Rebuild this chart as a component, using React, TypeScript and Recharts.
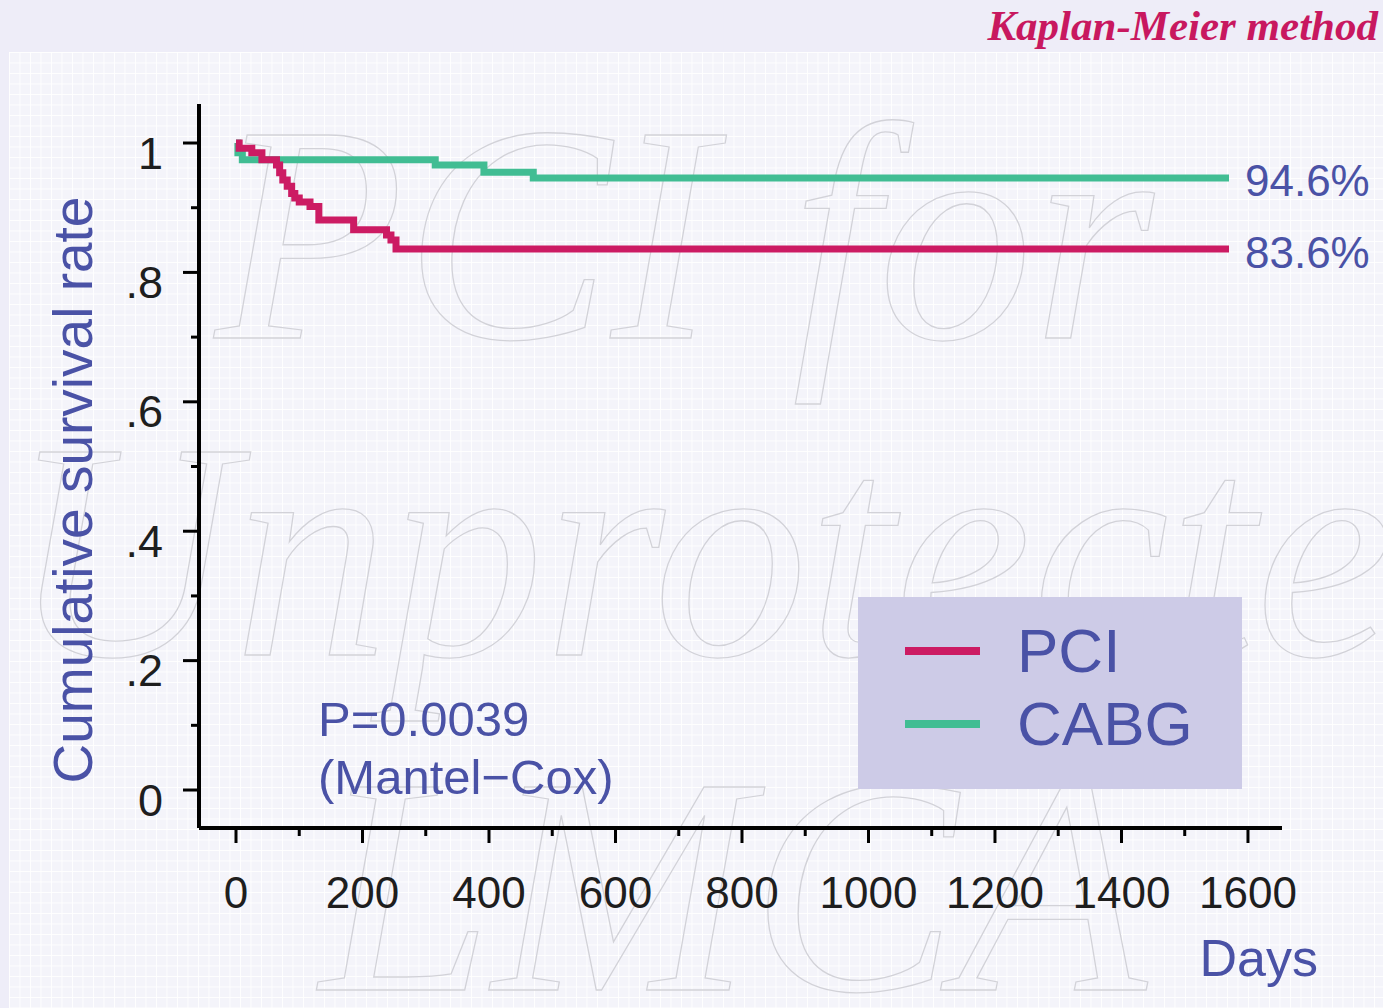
import { Legend, Line, LineChart, XAxis, YAxis } from "recharts";

// Kaplan-Meier steps (day, cumulative survival)
const pciDays = [0, 5, 25, 41, 64, 69, 74, 81, 88, 93, 100, 117, 131, 186, 238, 245, 253, 1570];
const pciSurvival = [1.0, 0.992, 0.985, 0.974, 0.966, 0.954, 0.943, 0.933, 0.922, 0.915, 0.909, 0.902, 0.881, 0.866, 0.858, 0.85, 0.836, 0.836];
const cabgDays = [0, 3, 10, 315, 392, 470, 1570];
const cabgSurvival = [1.0, 0.985, 0.974, 0.966, 0.955, 0.946, 0.946];

const finalLabels = { PCI: "83.6%", CABG: "94.6%" };
const legendOrder = ["PCI", "CABG"];

const xTicks = [0, 100, 200, 300, 400, 500, 600, 700, 800, 900, 1000, 1100, 1200, 1300, 1400, 1500, 1600];
const yTicks = [0, 0.1, 0.2, 0.3, 0.4, 0.5, 0.6, 0.7, 0.8, 0.9, 1.0];
const yTickLabels: Record<string, string> = { "0": "0", "0.2": ".2", "0.4": ".4", "0.6": ".6", "0.8": ".8", "1": "1" };

const pciData = pciDays.map((d, i) => ({ day: d, survival: pciSurvival[i] }));
const cabgData = cabgDays.map((d, i) => ({ day: d, survival: cabgSurvival[i] }));

const PCI_COLOR = "#cc1b63";
const CABG_COLOR = "#41bd93";
const BLUE = "#4a52a6";
const FONT = "'Liberation Sans', Arial, sans-serif";

function YTick({ x, y, payload }: any) {
  const key = String(Math.round(payload.value * 10) / 10);
  const label = yTickLabels[key];
  const major = label !== undefined;
  return (
    <g>
      <line x1={x - (major ? 16 : 8)} x2={x} y1={y} y2={y} stroke="#000" strokeWidth={3} />
      {major && (
        <text x={x - 36} y={y + 10} textAnchor="end" dominantBaseline="central" fontSize={45} fill="#1e1e1e" fontFamily={FONT}>
          {label}
        </text>
      )}
    </g>
  );
}

function XTick({ x, y, payload }: any) {
  const major = payload.value % 200 === 0;
  return (
    <g>
      <line x1={x} x2={x} y1={y} y2={y + (major ? 15 : 8)} stroke="#000" strokeWidth={3} />
      {major && (
        <text x={x} y={y + 64} textAnchor="middle" dominantBaseline="central" fontSize={44} fill="#1e1e1e" fontFamily={FONT}>
          {payload.value}
        </text>
      )}
    </g>
  );
}

function endLabel(name: "PCI" | "CABG", count: number) {
  return (props: any) => {
    if (props.index !== count - 1) return null;
    return (
      <text x={props.x + 16} y={props.y + 3} dominantBaseline="central" fontSize={44} fill={BLUE} fontFamily={FONT}>
        {finalLabels[name]}
      </text>
    );
  };
}

function LegendBox({ payload }: any) {
  const items = [...(payload || [])].sort((a: any, b: any) => legendOrder.indexOf(a.value) - legendOrder.indexOf(b.value));
  return (
    <div style={{ width: 384, height: 192, background: "#cdcbe7", position: "relative" }}>
      {items.map((p: any, i: number) => (
        <div key={p.value} style={{ position: "absolute", left: 0, top: 18 + i * 73, height: 72, display: "flex", alignItems: "center" }}>
          <div style={{ marginLeft: 47, width: 75, height: 8, background: p.color }} />
          <span style={{ marginLeft: 37, fontSize: 62, color: BLUE, fontFamily: FONT, lineHeight: "72px" }}>{p.value}</span>
        </div>
      ))}
    </div>
  );
}

export default function App() {
  return (
    <div style={{ position: "absolute", left: 0, top: 0, width: 1383, height: 1008, background: "#eeedf8", overflow: "hidden", fontFamily: FONT }}>
      <div
        style={{
          position: "absolute",
          left: 9,
          top: 52,
          right: 0,
          bottom: 0,
          backgroundColor: "#f4f4fa",
          backgroundImage:
            "linear-gradient(to right, rgba(255,255,255,0.9) 1px, transparent 1px), linear-gradient(to bottom, rgba(255,255,255,0.9) 1px, transparent 1px)",
          backgroundSize: "10.5px 10.5px",
        }}
      />
      <svg width={1383} height={1008} style={{ position: "absolute", left: 0, top: 0 }}>
        <g fill="none" stroke="#d2d2d8" strokeWidth={1.3} fontFamily="'Liberation Serif', 'Times New Roman', serif" fontStyle="italic" fontSize={310}>
          <text x={215} y={338}>PCI for</text>
          <text x={10} y={655}>Unprotected</text>
          <text x={320} y={990}>LMCA</text>
        </g>
      </svg>
      <div style={{ position: "absolute", right: 5, top: 1, fontFamily: "'Liberation Serif', 'Times New Roman', serif", fontStyle: "italic", fontWeight: "bold", fontSize: 43, color: "#c8185f" }}>
        Kaplan-Meier method
      </div>
      <div style={{ position: "absolute", left: 0, top: 0 }}>
        <LineChart width={1383} height={1008} margin={{ top: 104, right: 101, bottom: 100, left: 119 }}>
          <XAxis
            dataKey="day"
            type="number"
            domain={[-58.5, 1653.8]}
            allowDataOverflow
            ticks={xTicks}
            interval={0}
            height={80}
            tickSize={0}
            tickMargin={0}
            tickLine={false}
            tick={<XTick />}
            axisLine={{ stroke: "#000", strokeWidth: 4 }}
            label={() => (
              <text x={1318} y={958} textAnchor="end" dominantBaseline="central" fontSize={52} fill={BLUE} fontFamily={FONT}>
                Days
              </text>
            )}
          />
          <YAxis
            type="number"
            domain={[-0.0587, 1.0603]}
            allowDataOverflow
            ticks={yTicks}
            interval={0}
            width={80}
            tickSize={0}
            tickMargin={0}
            tickLine={false}
            tick={<YTick />}
            axisLine={{ stroke: "#000", strokeWidth: 4 }}
            label={() => (
              <text
                x={73}
                y={490}
                transform="rotate(-90 73 490)"
                textAnchor="middle"
                dominantBaseline="central"
                fontSize={55}
                fill={BLUE}
                fontFamily={FONT}
              >
                Cumulative survival rate
              </text>
            )}
          />
          <Legend
            verticalAlign="middle"
            align="center"
            wrapperStyle={{ left: 858, top: 597, width: 384, height: 192 }}
            content={<LegendBox />}
          />
          <Line
            data={cabgData}
            dataKey="survival"
            name="CABG"
            type="stepAfter"
            stroke={CABG_COLOR}
            strokeWidth={7}
            dot={false}
            isAnimationActive={false}
            label={endLabel("CABG", cabgData.length)}
          />
          <Line
            data={pciData}
            dataKey="survival"
            name="PCI"
            type="stepAfter"
            stroke={PCI_COLOR}
            strokeWidth={7}
            dot={false}
            isAnimationActive={false}
            label={endLabel("PCI", pciData.length)}
          />
        </LineChart>
      </div>
      <div style={{ position: "absolute", left: 318, top: 690, fontSize: 49, lineHeight: "58px", color: BLUE }}>
        P=0.0039
        <br />
        (Mantel−Cox)
      </div>
    </div>
  );
}
